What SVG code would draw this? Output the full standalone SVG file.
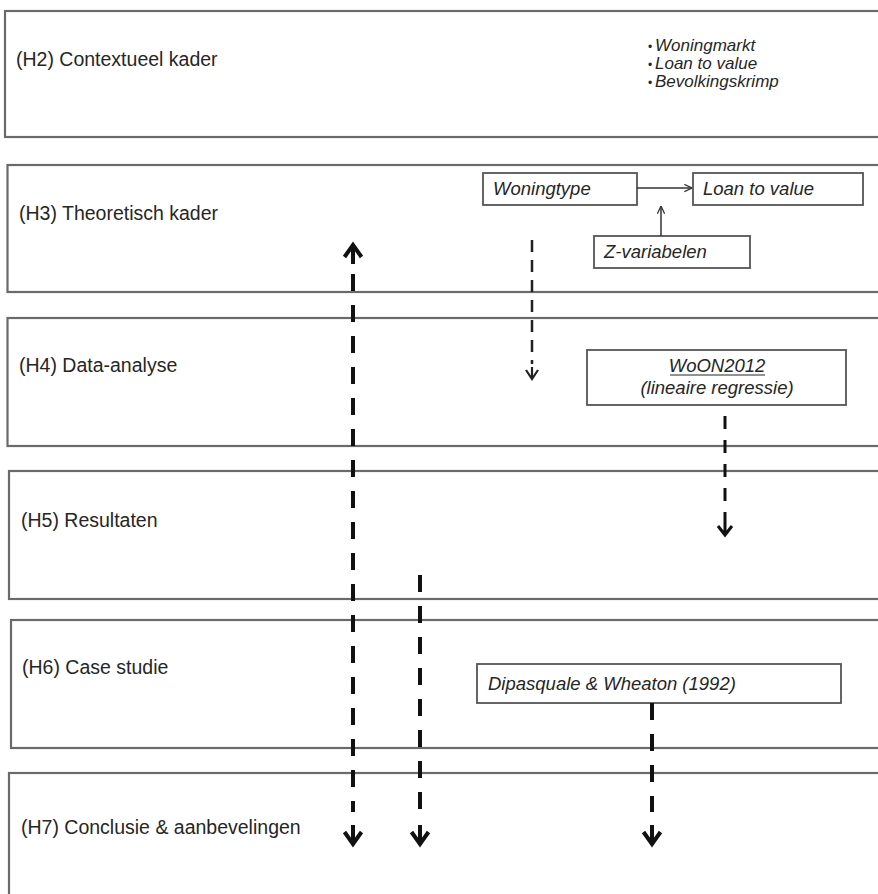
<svg xmlns="http://www.w3.org/2000/svg" width="878" height="894" viewBox="0 0 878 894">
<style>
.panel{fill:#fff;stroke:#6a6a6a;stroke-width:2.2}
.box{fill:#fff;stroke:#555;stroke-width:1.8}
.lbl{font-family:"Liberation Sans",Arial,sans-serif;font-size:19.5px;fill:#262626}
.it{font-family:"Liberation Sans",Arial,sans-serif;font-size:18.5px;font-style:italic;fill:#262626}
.itS{font-family:"Liberation Sans",Arial,sans-serif;font-size:17px;font-style:italic;fill:#262626}
.bul{font-style:normal;font-size:12px}
.thin{stroke:#333;stroke-width:1.5;fill:none}
.dashB{stroke:#111;stroke-width:4;stroke-dasharray:17 14;fill:none}
.dashM{stroke:#111;stroke-width:3;stroke-dasharray:13 11;fill:none}
.dashS{stroke:#222;stroke-width:2.5;stroke-dasharray:12 8;fill:none}
.headB{stroke:#111;stroke-width:4;fill:none}
.headM{stroke:#111;stroke-width:3;fill:none}
.headS{stroke:#222;stroke-width:2.2;fill:none}
</style>
<defs>
<path id="hdBig" d="M-8.5,-13 L0,-1 L8.5,-13 M0,-20 L0,-1"/>
<path id="hdMed" d="M-7,-10 L0,-1 L7,-10 M0,-13 L0,-1"/>
<path id="hdSm" d="M-6,-10 L0,-1 L6,-10 M0,-13 L0,-1"/>
<marker id="arr" viewBox="0 0 10 10" refX="9.5" refY="5" markerWidth="9" markerHeight="9" markerUnits="userSpaceOnUse" orient="auto">
<path d="M1,1 L9.5,5 L1,9" fill="none" stroke="#333" stroke-width="1.4"/>
</marker>
</defs>

<g id="H2">
<rect class="panel" x="5" y="11" width="900" height="126"/>
<text class="lbl" x="16" y="66">(H2) Contextueel kader</text>
<text class="itS" x="648" y="51"><tspan class="bul">•</tspan><tspan x="655">Woningmarkt</tspan></text>
<text class="itS" x="648" y="69"><tspan class="bul">•</tspan><tspan x="655">Loan to value</tspan></text>
<text class="itS" x="648" y="87"><tspan class="bul">•</tspan><tspan x="655">Bevolkingskrimp</tspan></text>
</g>

<g id="H3">
<rect class="panel" x="7.5" y="165" width="900" height="127"/>
<text class="lbl" x="19" y="220">(H3) Theoretisch kader</text>
</g>

<g id="H4">
<rect class="panel" x="7.5" y="318" width="900" height="128"/>
<text class="lbl" x="19" y="372">(H4) Data-analyse</text>
</g>

<g id="H5">
<rect class="panel" x="9" y="471" width="900" height="128"/>
<text class="lbl" x="21" y="527">(H5) Resultaten</text>
</g>

<g id="H6">
<rect class="panel" x="11" y="620" width="900" height="128"/>
<text class="lbl" x="22" y="674">(H6) Case studie</text>
</g>

<g id="H7">
<rect class="panel" x="9" y="773" width="900" height="160"/>
<text class="lbl" x="21" y="834">(H7) Conclusie &amp; aanbevelingen</text>
</g>

<g id="woningtype">
<rect class="box" x="483" y="173" width="154" height="32"/>
<text class="it" x="493" y="195">Woningtype</text>
</g>
<g id="loantovalue">
<rect class="box" x="693" y="173" width="170" height="32"/>
<text class="it" x="703" y="195">Loan to value</text>
</g>
<g id="zvariabelen">
<rect class="box" x="594" y="236" width="156" height="32"/>
<text class="it" x="604" y="258">Z-variabelen</text>
</g>
<g id="woon2012">
<rect class="box" x="587" y="350" width="259" height="55"/>
<text class="it" x="717" y="372" text-anchor="middle">WoON2012</text>
<line x1="670" y1="375" x2="765" y2="375" stroke="#262626" stroke-width="1.2"/>
<text class="it" x="717" y="394" text-anchor="middle">(lineaire regressie)</text>
</g>
<g id="dipasquale">
<rect class="box" x="477" y="664" width="364" height="39"/>
<text class="it" x="488" y="690">Dipasquale &amp; Wheaton (1992)</text>
</g>

<g id="connectors">
<line class="thin" x1="637" y1="188" x2="692" y2="188" marker-end="url(#arr)"/>
<line class="thin" x1="661" y1="236" x2="661" y2="206" marker-end="url(#arr)"/>

<line class="dashS" x1="532" y1="240" x2="532" y2="364"/>
<use href="#hdSm" class="headS" transform="translate(532,380)"/>

<line class="dashM" x1="725" y1="416" x2="725" y2="523"/>
<use href="#hdMed" class="headM" transform="translate(725,536)"/>

<line class="dashB" x1="353" y1="274" x2="353" y2="812"/>
<use href="#hdBig" class="headB" transform="translate(353,244) rotate(180)"/>
<use href="#hdBig" class="headB" transform="translate(353,845)"/>

<line class="dashB" x1="420" y1="575" x2="420" y2="812"/>
<use href="#hdBig" class="headB" transform="translate(420,845)"/>

<line class="dashB" x1="652" y1="703" x2="652" y2="812"/>
<use href="#hdBig" class="headB" transform="translate(652,845)"/>
</g>
</svg>
